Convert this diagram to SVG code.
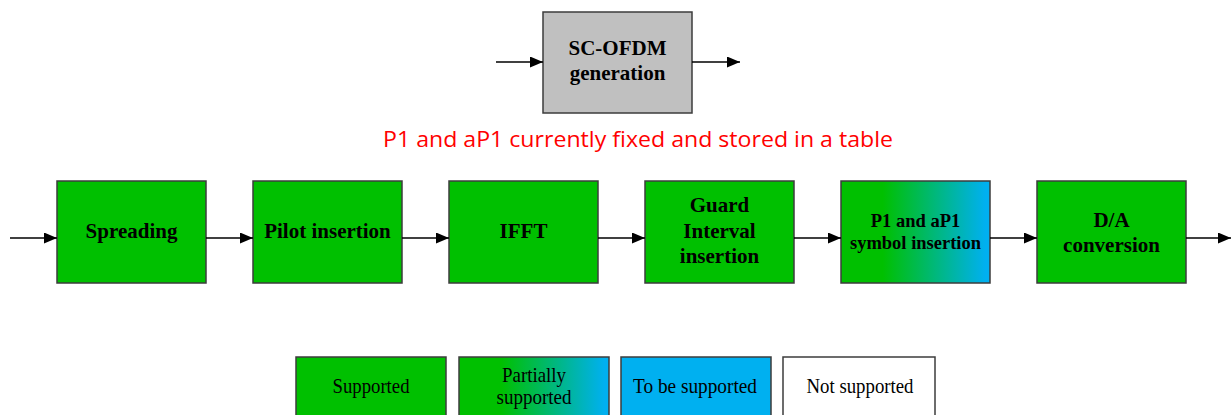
<svg xmlns="http://www.w3.org/2000/svg" width="1232" height="415" viewBox="0 0 1232 415">
  <style>
    .box { stroke: #3c3c3c; stroke-width: 1.5; }
    .sup { fill: #00c000; }
    .tbs { fill: #00b0f0; }
    .none { fill: #ffffff; }
    .gray { fill: #c0c0c0; }
    .lbl { font-family: "Liberation Serif", "Times New Roman", serif; font-weight: bold; font-size: 21px; fill: #000; text-anchor: middle; }
    .lbl-s { font-family: "Liberation Serif", "Times New Roman", serif; font-weight: bold; font-size: 18.5px; fill: #000; text-anchor: middle; }
    .leg { font-family: "Liberation Serif", "Times New Roman", serif; font-size: 21px; fill: #000; text-anchor: middle; }
    .note { font-family: "Open Sans", "Liberation Sans", sans-serif; font-size: 21px; fill: #ff0000; }
    .wire { stroke: #000; stroke-width: 1.5; fill: none; marker-end: url(#head); }
  </style>
  <defs>
    <marker id="head" viewBox="0 0 13 11" refX="13" refY="5.5" markerWidth="13" markerHeight="11" markerUnits="userSpaceOnUse" orient="auto">
      <path d="M0,0 L13,5.5 L0,11 Z" fill="#000"/>
    </marker>
    <linearGradient id="partial" x1="0" y1="0" x2="1" y2="0">
      <stop offset="0.28" stop-color="#00c000"/>
      <stop offset="0.97" stop-color="#00b0f0"/>
    </linearGradient>
  </defs>

  <rect width="1232" height="415" fill="#ffffff"/>

  <!-- SC-OFDM generation block -->
  <g id="sc-ofdm">
    <rect class="box gray" x="543" y="12" width="149" height="101"/>
    <text class="lbl" x="617.5" y="55">SC-OFDM</text>
    <text class="lbl" x="617.5" y="80">generation</text>
  </g>

  <text class="note" x="383" y="147" textLength="510" lengthAdjust="spacingAndGlyphs">P1 and aP1 currently fixed and stored in a table</text>

  <!-- transmitter chain -->
  <g id="spreading">
    <rect class="box sup" x="57" y="181" width="149" height="102"/>
    <text class="lbl" x="131.5" y="238">Spreading</text>
  </g>
  <g id="pilot-insertion">
    <rect class="box sup" x="253" y="181" width="149" height="102"/>
    <text class="lbl" x="327.5" y="238">Pilot insertion</text>
  </g>
  <g id="ifft">
    <rect class="box sup" x="449" y="181" width="149" height="102"/>
    <text class="lbl" x="523.5" y="238">IFFT</text>
  </g>
  <g id="guard-interval">
    <rect class="box sup" x="645" y="181" width="149" height="102"/>
    <text class="lbl" x="719.5" y="212">Guard</text>
    <text class="lbl" x="719.5" y="238">Interval</text>
    <text class="lbl" x="719.5" y="263">insertion</text>
  </g>
  <g id="p1-insertion">
    <rect class="box" fill="url(#partial)" x="841" y="181" width="149" height="102"/>
    <text class="lbl-s" x="915.5" y="227">P1 and aP1</text>
    <text class="lbl-s" x="915.5" y="249">symbol insertion</text>
  </g>
  <g id="da-conversion">
    <rect class="box sup" x="1037" y="181" width="149" height="102"/>
    <text class="lbl" x="1111.5" y="227">D/A</text>
    <text class="lbl" x="1111.5" y="252">conversion</text>
  </g>

  <!-- connectors -->
  <g id="connectors">
    <line class="wire" x1="496" y1="62" x2="543" y2="62"/>
    <line class="wire" x1="692" y1="62" x2="740" y2="62"/>
    <line class="wire" x1="10" y1="238" x2="57" y2="238"/>
    <line class="wire" x1="206" y1="238" x2="253" y2="238"/>
    <line class="wire" x1="402" y1="238" x2="449" y2="238"/>
    <line class="wire" x1="598" y1="238" x2="645" y2="238"/>
    <line class="wire" x1="794" y1="238" x2="841" y2="238"/>
    <line class="wire" x1="990" y1="238" x2="1037" y2="238"/>
    <line class="wire" x1="1186" y1="238" x2="1231" y2="238"/>
  </g>

  <!-- legend -->
  <g id="legend-supported">
    <rect class="box sup" x="296" y="357" width="150" height="70"/>
    <text class="leg" x="371" y="393" textLength="77" lengthAdjust="spacingAndGlyphs">Supported</text>
  </g>
  <g id="legend-partial">
    <rect class="box" fill="url(#partial)" x="459" y="357" width="150" height="70"/>
    <text class="leg" x="534" y="382" textLength="64" lengthAdjust="spacingAndGlyphs">Partially</text>
    <text class="leg" x="534" y="404" textLength="75" lengthAdjust="spacingAndGlyphs">supported</text>
  </g>
  <g id="legend-tbs">
    <rect class="box tbs" x="621" y="357" width="150" height="70"/>
    <text class="leg" x="695" y="393" textLength="124" lengthAdjust="spacingAndGlyphs">To be supported</text>
  </g>
  <g id="legend-none">
    <rect class="box none" x="783" y="357" width="152" height="70"/>
    <text class="leg" x="860" y="393" textLength="107" lengthAdjust="spacingAndGlyphs">Not supported</text>
  </g>
</svg>
